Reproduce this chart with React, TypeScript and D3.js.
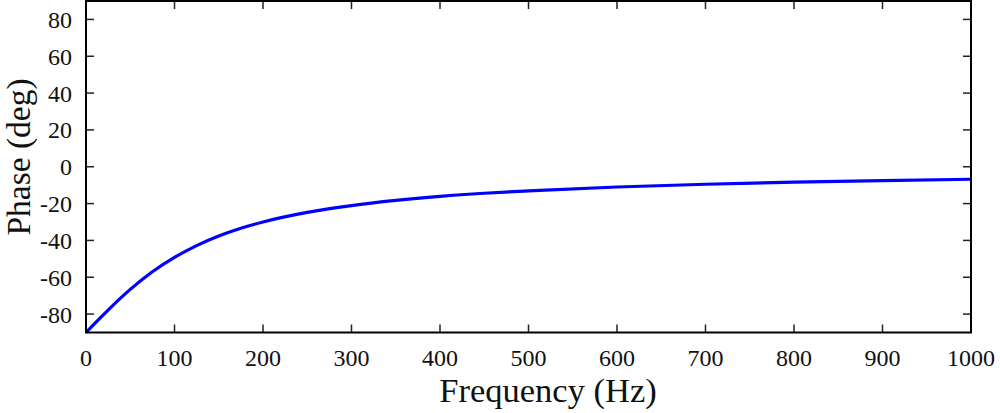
import React from "react";
import * as d3 from "d3";

const freqHz = [0, 10, 25, 50, 75, 100, 125, 150, 175, 200, 250, 300, 350, 400, 450, 500, 600, 700, 800, 900, 1000];
const phaseDeg = [-90, -85, -77.8, -66.6, -57, -49.2, -42.8, -37.6, -33.4, -30, -24.8, -21.1, -18.3, -16.1, -14.4, -13.1, -11, -9.5, -8.4, -7.5, -6.8];
const xTicks = [0, 100, 200, 300, 400, 500, 600, 700, 800, 900, 1000];
const yTicks = [-80, -60, -40, -20, 0, 20, 40, 60, 80];

export default function App() {
  const W = 1000, H = 413;
  const left = 86, right = 971, top = 1, bottom = 332.5;
  const x = d3.scaleLinear().domain([0, 1000]).range([left, right]);
  const y = d3.scaleLinear().domain([-90, 90]).range([bottom, top]);
  const line = d3
    .line<number>()
    .x((_, i) => x(freqHz[i]))
    .y((d) => y(d))
    .curve(d3.curveMonotoneX);
  const font = "Liberation Serif";
  const tl = 8;
  return (
    <svg width={W} height={H} style={{ position: "absolute", left: 0, top: 0, background: "#fff" }}>
      <g stroke="#222" strokeWidth={1.5}>
        {xTicks.map((t) => (
          <g key={"x" + t}>
            <line x1={x(t)} x2={x(t)} y1={bottom} y2={bottom - tl} />
            <line x1={x(t)} x2={x(t)} y1={top} y2={top + tl} />
          </g>
        ))}
        {yTicks.map((t) => (
          <g key={"y" + t}>
            <line x1={left} x2={left + tl} y1={y(t)} y2={y(t)} />
            <line x1={right} x2={right - tl} y1={y(t)} y2={y(t)} />
          </g>
        ))}
      </g>
      <path d={line(phaseDeg) || ""} fill="none" stroke="#0000ff" strokeWidth={3.2} />
      <rect x={left} y={top} width={right - left} height={bottom - top} fill="none" stroke="#000" strokeWidth={2} />
      {xTicks.map((t) => (
        <text key={"xl" + t} x={x(t)} y={366} textAnchor="middle" fontFamily={font} fontSize={24} fill="#111">
          {t}
        </text>
      ))}
      {yTicks.map((t) => (
        <text key={"yl" + t} x={72} y={y(t) + 8.5} textAnchor="end" fontFamily={font} fontSize={24} fill="#111">
          {t}
        </text>
      ))}
      <text x={548} y={402} textAnchor="middle" fontFamily={font} fontSize={34.5} fill="#111">
        Frequency (Hz)
      </text>
      <text transform={`translate(30,157) rotate(-90)`} textAnchor="middle" fontFamily={font} fontSize={33.5} fill="#111">
        Phase (deg)
      </text>
    </svg>
  );
}
